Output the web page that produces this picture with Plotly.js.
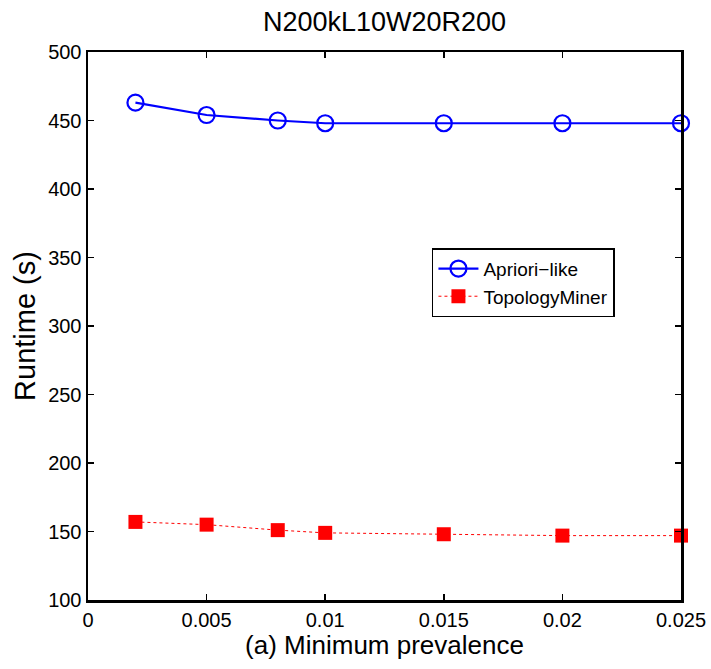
<!DOCTYPE html>
<html>
<head>
<meta charset="utf-8">
<script src="https://cdn.plot.ly/plotly-3.0.1.min.js"></script>
<style>html,body{margin:0;padding:0;background:#fff;}#chart{width:711px;height:669px;}</style>
</head>
<body>
<div id="chart"></div>
<script>
const prevalence = [0.002, 0.005, 0.008, 0.01, 0.015, 0.02, 0.025];
const aprioriRuntime = [463, 454, 450, 448, 448, 448, 448];
const topologyRuntime = [157, 155, 151, 149, 148, 147, 147];
const xTickVals = [0, 0.005, 0.01, 0.015, 0.02, 0.025];
const xTickText = ['0', '0.005', '0.01', '0.015', '0.02', '0.025'];
const yTickVals = [100, 150, 200, 250, 300, 350, 400, 450, 500];

const traces = [
  {
    x: prevalence, y: aprioriRuntime, name: 'Apriori\u2212like',
    mode: 'lines+markers', cliponaxis: false,
    line: {color: '#0000ff', width: 2.2},
    marker: {symbol: 'circle-open', size: 16, color: '#0000ff', line: {width: 2.2, color: '#0000ff'}}
  },
  {
    x: prevalence, y: topologyRuntime, name: 'TopologyMiner',
    mode: 'lines+markers', cliponaxis: false,
    line: {color: '#ff0000', width: 1, dash: 'dot'},
    marker: {symbol: 'square', size: 14, color: '#ff0000'}
  }
];

const fam = 'Liberation Sans, Arial, sans-serif';
const axisFont = {family: fam, size: 20, color: '#000'};
const layout = {
  width: 711, height: 669,
  margin: {l: 88, r: 30, t: 52, b: 69},
  paper_bgcolor: '#fff', plot_bgcolor: '#fff',
  showlegend: true,
  title: {text: 'N200kL10W20R200', font: {family: fam, size: 27, color: '#000'}, x: 0.5, xanchor: 'center', xref: 'paper', yref: 'container', y: 0.968, yanchor: 'middle'},
  xaxis: {
    range: [0, 0.025], tickvals: xTickVals, ticktext: xTickText,
    ticks: 'inside', ticklen: 6, tickwidth: 1.5, tickcolor: '#000',
    showline: true, linecolor: '#000', linewidth: 2.5, mirror: 'ticks',
    showgrid: false, zeroline: false, tickfont: axisFont,
    title: {text: '(a) Minimum prevalence', font: {family: fam, size: 26, color: '#000'}, standoff: 2}
  },
  yaxis: {
    range: [100, 500], tickvals: yTickVals,
    ticks: 'inside', ticklen: 6, tickwidth: 1.5, tickcolor: '#000',
    showline: true, linecolor: '#000', linewidth: 2.5, mirror: 'ticks',
    showgrid: false, zeroline: false, tickfont: axisFont,
    title: {text: 'Runtime (s)', font: {family: fam, size: 29, color: '#000'}, standoff: 4}
  },
  legend: {
    x: 0.58, y: 0.642, xanchor: 'left', yanchor: 'top',
    bgcolor: '#fff', bordercolor: '#000', borderwidth: 1.5,
    font: {family: fam, size: 19, color: '#000'},
    tracegroupgap: 0, itemwidth: 40
  }
};

Plotly.newPlot('chart', traces, layout, {displayModeBar: false, staticPlot: true});
</script>
</body>
</html>
